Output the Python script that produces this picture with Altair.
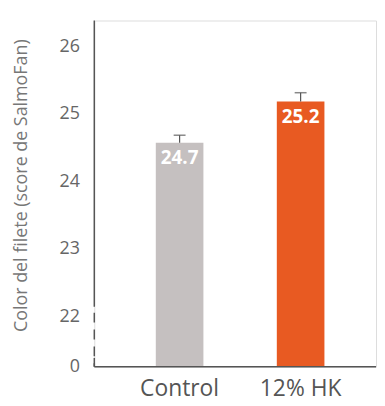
import altair as alt
import pandas as pd

categories = ["Control", "12% HK"]
values = [24.57, 25.18]
err_upper = [24.68, 25.31]
value_labels = ["24.7", "25.2"]
bar_colors = ["#C5C0C0", "#E85A22"]
y_ticks = [21.25, 22, 23, 24, 25, 26]

df = pd.DataFrame({"cat": categories, "value": values, "err": err_upper, "label": value_labels})

FONT = "Open Sans"
AX = "#555555"
ymin, ymax = 21.25, 26.38
W, H = 284, 349

yscale = alt.Scale(domain=[ymin, ymax], zero=False, nice=False)
xscale = alt.Scale(domain=categories, range=[25, 269], paddingInner=0, paddingOuter=0)

xenc = alt.X("cat:N", sort=categories, scale=xscale,
             axis=alt.Axis(title=None, labelAngle=0, labelFontSize=23, labelColor="#555555",
                           labelFont=FONT, labelPadding=11, ticks=False, domain=False))

base = alt.Chart(df)

bars = base.mark_bar(size=48).encode(
    x=xenc,
    y=alt.Y("value:Q", scale=yscale,
            axis=alt.Axis(title="Color del filete (score de SalmoFan)", values=y_ticks,
                          labelExpr="datum.value < 21.5 ? '0' : format(datum.value, 'd')",
                          grid=False, ticks=False, domain=False, labelFontSize=18,
                          labelColor="#666666", labelFont=FONT, labelPadding=15,
                          titleFont=FONT, titleFontSize=18, titleFontWeight="normal",
                          titleColor="#777777", titleX=-73, titleY=166,
                          titleBaseline="middle", titleAngle=-90)),
    y2=alt.datum(ymin),
    color=alt.Color("cat:N", scale=alt.Scale(domain=categories, range=bar_colors), legend=None),
)

err_rule = base.mark_rule(color=AX, strokeWidth=1.2).encode(
    x=alt.X("cat:N", sort=categories, scale=xscale), y="value:Q", y2="err:Q")
caps = base.mark_tick(color=AX, size=12, thickness=1.5, orient="horizontal").encode(
    x=alt.X("cat:N", sort=categories, scale=xscale), y="err:Q")
texts = base.mark_text(color="white", fontWeight="bold", fontSize=19, font=FONT,
                       baseline="middle", dy=16).encode(
    x=alt.X("cat:N", sort=categories, scale=xscale), y="value:Q", text="label:N")

one = alt.Chart(pd.DataFrame({"a": [0]}))
axis_solid = one.mark_rule(color=AX, strokeWidth=1.5).encode(
    x=alt.value(0), y=alt.datum(ymax), y2=alt.datum(22.14))
axis_dash = one.mark_rule(color=AX, strokeWidth=1.5, strokeDash=[10, 7]).encode(
    x=alt.value(0), y=alt.datum(22.05), y2=alt.datum(ymin))
axis_corner = one.mark_rule(color=AX, strokeWidth=1.5).encode(
    x=alt.value(0), y=alt.datum(21.38), y2=alt.datum(ymin))
baseline = one.mark_rule(color=AX, strokeWidth=1.5).encode(
    x=alt.value(0), x2=alt.value(W), y=alt.datum(ymin))

chart = alt.layer(bars, err_rule, caps, texts, axis_solid, axis_dash, axis_corner, baseline).properties(
    width=W, height=H,
    padding={"top": 10, "left": 5, "right": 0, "bottom": 0},
).configure_view(stroke=None).configure(background="white")

chart.save("out.html", embed_options={"renderer": "svg", "actions": False})
